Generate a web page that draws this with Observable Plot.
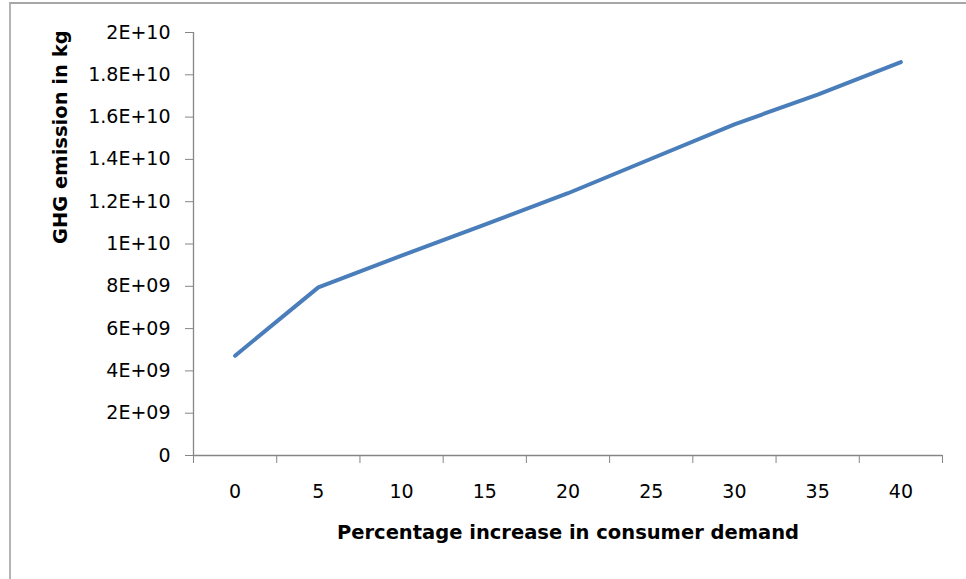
<!DOCTYPE html>
<html>
<head>
<meta charset="utf-8">
<script src="https://cdn.jsdelivr.net/npm/d3@7"></script>
<script src="https://cdn.jsdelivr.net/npm/@observablehq/plot@0.6"></script>
<style>
  html, body { margin: 0; padding: 0; background: #fff; }
  #wrap { position: relative; width: 966px; height: 579px; overflow: hidden; }
  #frame {
    position: absolute; left: 9px; top: 2px; width: 980px; height: 575px;
    border-left: 2px solid #b4b4b4; border-top: 2px solid #a6a6a6; border-bottom: 1px solid #d9d9d9;
  }
  #chart { position: absolute; left: 0; top: 0; }
</style>
</head>
<body>
<div id="wrap"><div id="frame"></div><div id="chart"></div></div>
<script>
// Percentage increase in consumer demand (category axis)
const demandIncrease = [0, 5, 10, 15, 20, 25, 30, 35, 40];
// GHG emission in kg for each demand level
const ghgEmission = [4.72e9, 7.95e9, 9.45e9, 10.92e9, 12.4e9, 14.03e9, 15.66e9, 17.06e9, 18.6e9];
// Value axis ticks
const yTicks = [0, 2e9, 4e9, 6e9, 8e9, 1e10, 1.2e10, 1.4e10, 1.6e10, 1.8e10, 2e10];

const xTitle = "Percentage increase in consumer demand";
const yTitle = "GHG emission in kg";

// Spreadsheet-style scientific notation, e.g. 1.2E+10, 8E+09
function sci(v) {
  if (v === 0) return "0";
  const e = Math.floor(Math.log10(Math.abs(v)) + 1e-9);
  const m = +(v / Math.pow(10, e)).toFixed(2);
  return `${m}E+${String(e).padStart(2, "0")}`;
}

const step = demandIncrease[1] - demandIncrease[0];
// category boundaries where the axis tick marks sit
const boundaries = demandIncrease.map(d => d - step / 2).concat(demandIncrease[demandIncrease.length - 1] + step / 2);
const data = demandIncrease.map((d, i) => ({x: d, y: ghgEmission[i]}));
const axisColor = "#868686";
const font = "'DejaVu Sans', sans-serif";
const tickFont = 19;
const titleFont = 19.5;

const chart = Plot.plot({
  width: 966,
  height: 579,
  marginLeft: 193,
  marginRight: 24,
  marginTop: 32,
  marginBottom: 124,
  style: {fontFamily: font, fontSize: `${tickFont}px`, color: "#000", background: "transparent", overflow: "visible"},
  x: {type: "linear", domain: [boundaries[0], boundaries[boundaries.length - 1]]},
  y: {domain: [0, 2e10]},
  marks: [
    Plot.ruleX([boundaries[0]], {y1: 0, y2: 2e10, stroke: axisColor, strokeWidth: 1.3}),
    Plot.ruleY([0], {x1: boundaries[0], x2: boundaries[boundaries.length - 1], stroke: axisColor, strokeWidth: 1.3}),
    Plot.axisY({ticks: yTicks, tickFormat: sci, tickSize: 8, tickPadding: 15, stroke: axisColor, fill: "#000", fontSize: tickFont, label: null}),
    Plot.axisX({ticks: boundaries, tickSize: 8, stroke: axisColor, text: null, label: null}),
    Plot.axisX({ticks: demandIncrease, tickSize: 0, tickPadding: 29, tickFormat: d => String(d), fill: "#000", fontSize: tickFont, label: null}),
    Plot.line(data, {x: "x", y: "y", stroke: "#4a7ebb", strokeWidth: 4, strokeLinecap: "round", strokeLinejoin: "round"}),
    Plot.text([xTitle], {frameAnchor: "bottom", dy: 77, fontWeight: "bold", fontSize: titleFont, lineAnchor: "middle", fill: "#000"}),
    Plot.text([yTitle], {frameAnchor: "left", dx: -133, rotate: -90, fontWeight: "bold", fontSize: titleFont, lineAnchor: "middle", fill: "#000"})
  ]
});
document.getElementById("chart").appendChild(chart);
</script>
</body>
</html>
